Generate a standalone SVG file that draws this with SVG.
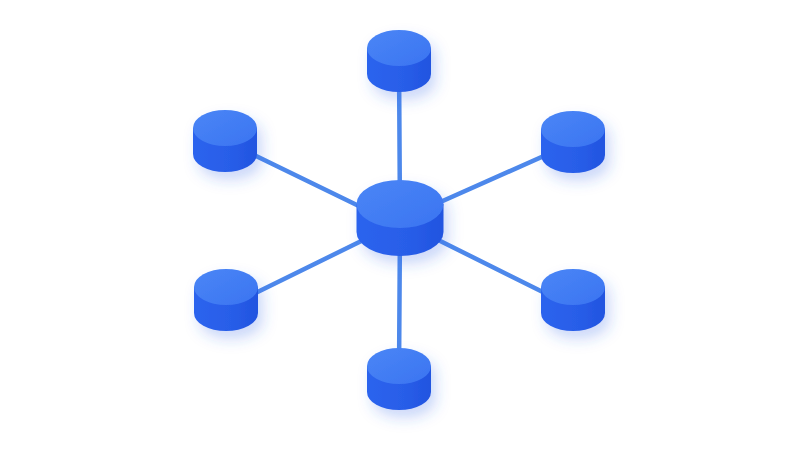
<svg xmlns="http://www.w3.org/2000/svg" xmlns:xlink="http://www.w3.org/1999/xlink" width="800" height="450" viewBox="0 0 800 450">
  <defs>
    <linearGradient id="topGrad" x1="0" y1="0" x2="1" y2="1">
      <stop offset="0" stop-color="#4a86f6"/>
      <stop offset="1" stop-color="#3b74f1"/>
    </linearGradient>
    <linearGradient id="sideGrad" x1="0" y1="0" x2="1" y2="0">
      <stop offset="0" stop-color="#2c64ee"/>
      <stop offset="0.6" stop-color="#285de8"/>
      <stop offset="1" stop-color="#2154e0"/>
    </linearGradient>
    <filter id="glow" x="-60%" y="-60%" width="220%" height="220%">
      <feDropShadow dx="5" dy="8" stdDeviation="7" flood-color="#2f62e6" flood-opacity="0.25"/>
    </filter>
    <g id="small">
      <path d="M -32 0 L -32 26 A 32 18 0 0 0 32 26 L 32 0 Z" fill="url(#sideGrad)"/>
      <ellipse cx="0" cy="0" rx="32" ry="18" fill="url(#topGrad)"/>
    </g>
    <g id="big">
      <path d="M -43.5 0 L -43.5 28 A 43.5 24 0 0 0 43.5 28 L 43.5 0 Z" fill="url(#sideGrad)"/>
      <ellipse cx="0" cy="0" rx="43.5" ry="24" fill="url(#topGrad)"/>
    </g>
  </defs>
  <style>
    .edge { stroke: #4d88eb; stroke-width: 4.5; stroke-linecap: round; fill: none; }
    .node { filter: url(#glow); }
  </style>
  <rect width="800" height="450" fill="#ffffff"/>
  <g id="connectors">
    <line class="edge" x1="400" y1="222" x2="399" y2="60"/>
    <line class="edge" x1="400" y1="222" x2="399" y2="375"/>
    <line class="edge" x1="400" y1="226" x2="225" y2="141"/>
    <line class="edge" x1="400" y1="220" x2="573" y2="143"/>
    <line class="edge" x1="400" y1="222" x2="225" y2="308"/>
    <line class="edge" x1="400" y1="221" x2="573" y2="307"/>
  </g>
  <g id="node-top" class="node"><use xlink:href="#small" x="399" y="48"/></g>
  <g id="node-top-left" class="node"><use xlink:href="#small" x="225" y="128"/></g>
  <g id="node-top-right" class="node"><use xlink:href="#small" x="573" y="129"/></g>
  <g id="node-bottom-left" class="node"><use xlink:href="#small" x="226" y="287"/></g>
  <g id="node-bottom-right" class="node"><use xlink:href="#small" x="573" y="287"/></g>
  <g id="node-bottom" class="node"><use xlink:href="#small" x="399" y="366"/></g>
  <g id="node-center" class="node"><use xlink:href="#big" x="400" y="204"/></g>
</svg>
